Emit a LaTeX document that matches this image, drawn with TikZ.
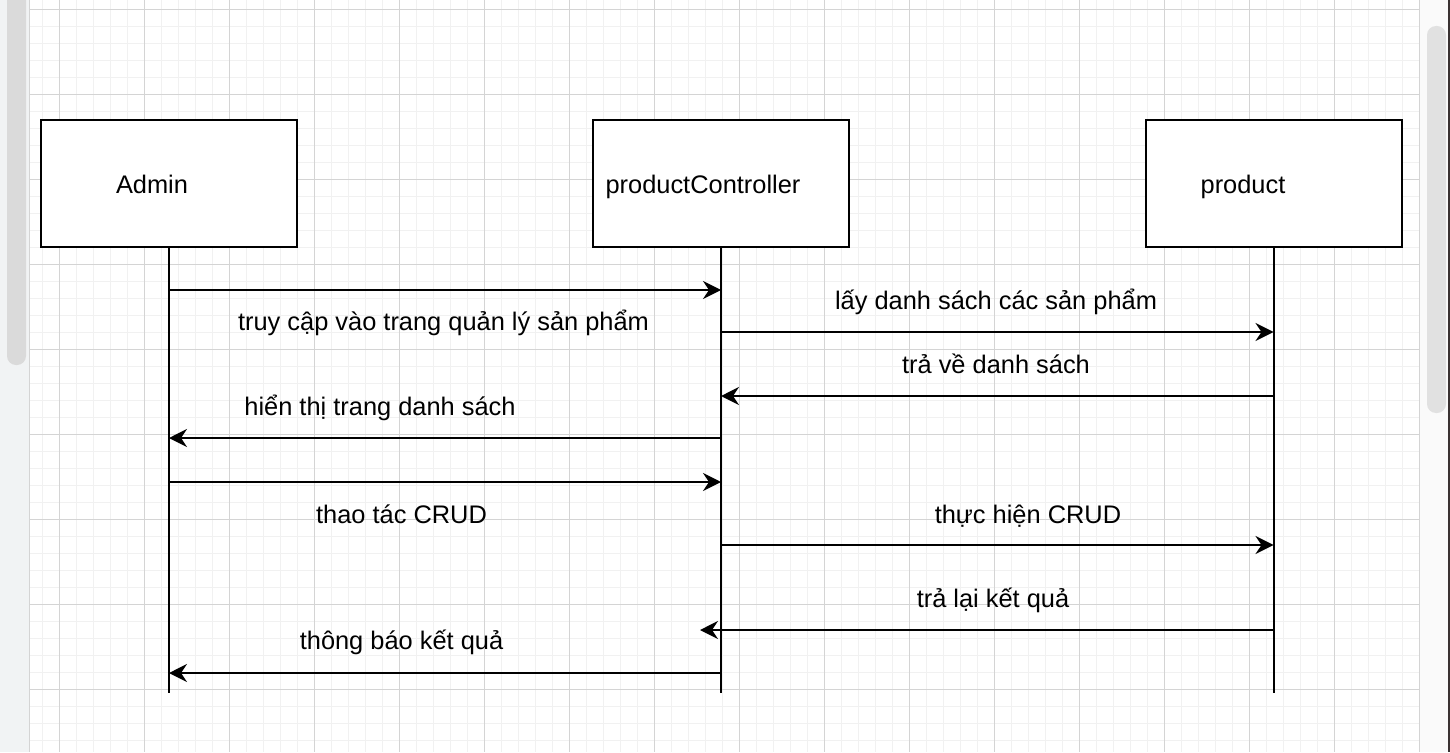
\documentclass[tikz,border=0pt]{standalone}
\usepackage{fontspec}
\setmainfont{Liberation Sans}
\usepackage{xcolor}
\usepackage{tikz}
\usetikzlibrary{arrows.meta}
\definecolor{gridminor}{HTML}{F1F1F1}
\definecolor{gridmajor}{HTML}{D4D4D4}
\definecolor{panelgray}{HTML}{F1F3F4}
\definecolor{scrollgray}{HTML}{DADADA}
\definecolor{panelright}{HTML}{FAFAFA}
\definecolor{scrollright}{HTML}{E1E1E1}
\definecolor{edgedark}{HTML}{3A3232}

\begin{document}
\begin{tikzpicture}[x=1pt, y=-1pt,
    font=\fontsize{25.4}{30}\selectfont,
    actor/.style={draw, line width=2pt, fill=white, minimum width=256pt, minimum height=127pt},
    lifeline/.style={line width=2pt},
    msg/.style={line width=2pt, -{Stealth[length=18pt, width=18pt, inset=6pt]}},
    msglabel/.style={anchor=base, inner sep=0pt}]
  \useasboundingbox (0,0) rectangle (1450,752);
  \fill[white] (30,0) rectangle (1419.3,752);
  \foreach \i in {0,...,81}
    \draw[gridminor, line width=1pt] (42.3+17*\i,0) -- (42.3+17*\i,752);
  \foreach \j in {0,...,43}
    \draw[gridminor, line width=1pt] (30,9.3+17*\j) -- (1419.3,9.3+17*\j);
  \foreach \i in {0,...,16}
    \draw[gridmajor, line width=1pt] (59.3+85*\i,0) -- (59.3+85*\i,752);
  \foreach \j in {0,...,8}
    \draw[gridmajor, line width=1pt] (30,9.3+85*\j) -- (1419.3,9.3+85*\j);
  \fill[panelgray] (0,0) rectangle (29.5,752);
  \fill[scrollgray, rounded corners=9pt] (7,-20) rectangle (26,365);
  \draw[gridmajor, line width=1pt] (29.8,0) -- (29.8,752);
  \fill[panelright] (1420,0) rectangle (1448,752);
  \fill[scrollright, rounded corners=9pt] (1427,26) rectangle (1446,413);
  \fill[edgedark] (1448,0) rectangle (1450,752);

  \node[actor] (admin) at (169,183.5) {};
  \node[actor] (ctrl) at (721,183.5) {};
  \node[actor] (prod) at (1273.5,183.5) {};
  \node[msglabel] (adminname) at (152,193) {Admin};
  \node[msglabel] (ctrlname) at (703,193) {productController};
  \node[msglabel] (prodname) at (1243,193) {product};

  \coordinate (adminend) at (169,693);
  \coordinate (ctrlend) at (721,693);
  \coordinate (prodend) at (1273.5,693);
  \draw[lifeline] (admin.south) -- (adminend);
  \draw[lifeline] (ctrl.south) -- (ctrlend);
  \draw[lifeline] (prod.south) -- (prodend);

  \draw[msg] (admin.south |- 0,290) -- (ctrl.south |- 0,290);
  \draw[msg] (ctrl.south |- 0,332) -- (prod.south |- 0,332);
  \draw[msg] (prod.south |- 0,396) -- (ctrl.south |- 0,396);
  \draw[msg] (ctrl.south |- 0,438) -- (admin.south |- 0,438);
  \draw[msg] (admin.south |- 0,482) -- (ctrl.south |- 0,482);
  \draw[msg] (ctrl.south |- 0,545) -- (prod.south |- 0,545);
  \coordinate (backtip) at (700,630);
  \draw[msg] (prod.south |- backtip) -- (backtip);
  \draw[msg] (ctrl.south |- 0,673) -- (admin.south |- 0,673);

  \node[msglabel] (m1) at (443.5,330) {truy cập vào trang quản lý sản phẩm};
  \node[msglabel] (m2) at (996,309) {lấy danh sách các sản phẩm};
  \node[msglabel] (m3) at (996,373) {trả về danh sách};
  \node[msglabel] (m4) at (380,415) {hiển thị trang danh sách};
  \node[msglabel] (m5) at (401.5,523) {thao tác CRUD};
  \node[msglabel] (m6) at (1028,523) {thực hiện CRUD};
  \node[msglabel] (m7) at (993,607) {trả lại kết quả};
  \node[msglabel] (m8) at (401.5,649) {thông báo kết quả};
\end{tikzpicture}
\end{document}
